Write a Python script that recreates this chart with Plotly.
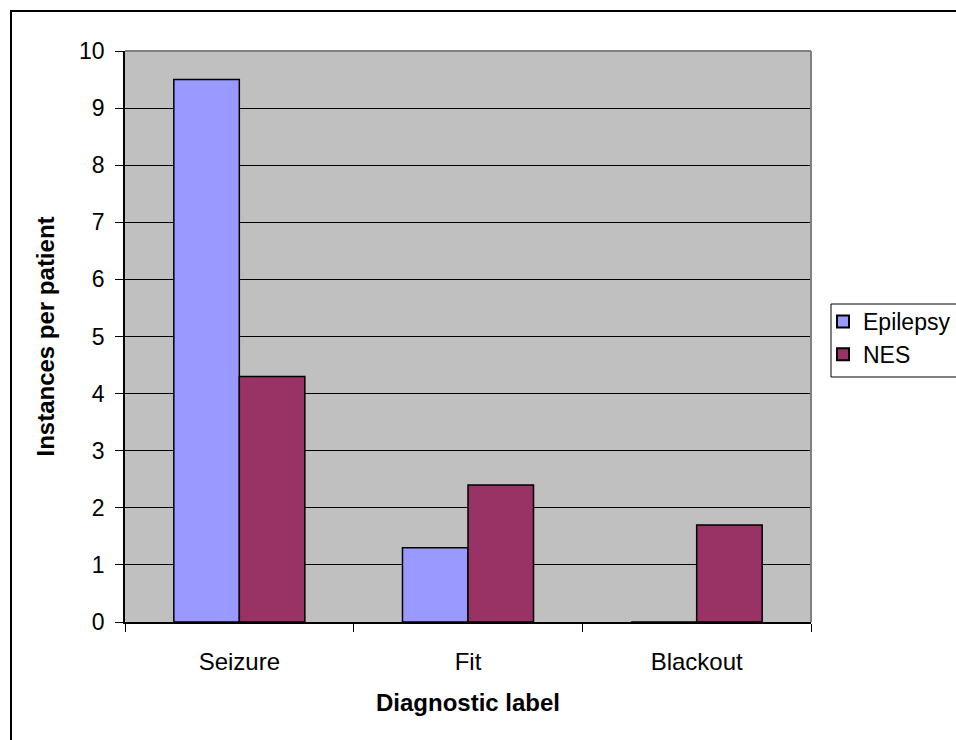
import plotly.graph_objects as go

categories = ["Seizure", "Fit", "Blackout"]
epilepsy = [9.5, 1.3, 0]
nes = [4.3, 2.4, 1.7]
y_ticks = [0, 1, 2, 3, 4, 5, 6, 7, 8, 9, 10]

W, H = 956, 740
PL, PR, PT, PB = 125, 811, 51, 622   # plot area in pixels
L, T = PL, PT
R, B = W - PR, H - PB
pw, ph = PR - PL, PB - PT

def px_x(x):
    return (x - PL) / pw

def px_y(y):
    return (PB - y) / ph

FONT = "Liberation Sans, Arial, sans-serif"

fig = go.Figure()
fig.add_trace(go.Bar(name="Epilepsy", x=categories, y=epilepsy,
                     marker=dict(color="#9999FF", line=dict(color="black", width=1.5))))
fig.add_trace(go.Bar(name="NES", x=categories, y=nes,
                     marker=dict(color="#993366", line=dict(color="black", width=1.5))))

fig.update_layout(
    width=W, height=H,
    margin=dict(l=L, r=R, t=T, b=B, autoexpand=False),
    paper_bgcolor="white",
    plot_bgcolor="#C0C0C0",
    barmode="group", bargap=0.427, bargroupgap=0,
    font=dict(family=FONT, size=23, color="black"),
    showlegend=True,
    legend=dict(x=px_x(823), y=px_y(300), xanchor="left", yanchor="top",
                borderwidth=0, bgcolor="rgba(0,0,0,0)",
                font=dict(size=23), itemsizing="constant"),
    xaxis=dict(
        type="category", showline=True, linecolor="black", linewidth=1.5,
        ticks="outside", tickson="boundaries", ticklen=8, tickcolor="black",
        tickfont=dict(size=24), ticklabelstandoff=17,
        title=dict(text="<b>Diagnostic label</b>", font=dict(size=24), standoff=21),
        showgrid=False, zeroline=False,
    ),
    yaxis=dict(
        range=[0, 10], tickvals=y_ticks, showline=True, linecolor="black", linewidth=1.5,
        ticks="outside", ticklen=8, tickcolor="black",
        tickfont=dict(size=23), ticklabelstandoff=6,
        showgrid=True, gridcolor="black", gridwidth=1,
        zeroline=False,
        title=dict(text="<b>Instances per patient</b>", font=dict(size=24), standoff=18),
    ),
    shapes=[
        # plot area top/right gray border
        dict(type="line", xref="paper", yref="paper", x0=0, x1=1, y0=1, y1=1,
             line=dict(color="#808080", width=2)),
        dict(type="line", xref="paper", yref="paper", x0=1, x1=1, y0=0, y1=1,
             line=dict(color="#808080", width=2)),
        # legend box
        dict(type="rect", xref="paper", yref="paper",
             x0=px_x(831), x1=px_x(990), y0=px_y(377), y1=px_y(304),
             line=dict(color="black", width=1), fillcolor="white", layer="below"),
        # outer chart border
        dict(type="rect", xref="paper", yref="paper",
             x0=px_x(11), x1=px_x(990), y0=px_y(770), y1=px_y(11),
             line=dict(color="black", width=2), layer="above"),
    ],
)

fig.write_html(
    "out.html",
    config={"displayModeBar": False},
    post_script="document.body.style.margin='0';document.body.style.overflow='hidden';"
                "document.documentElement.style.overflow='hidden';",
)
